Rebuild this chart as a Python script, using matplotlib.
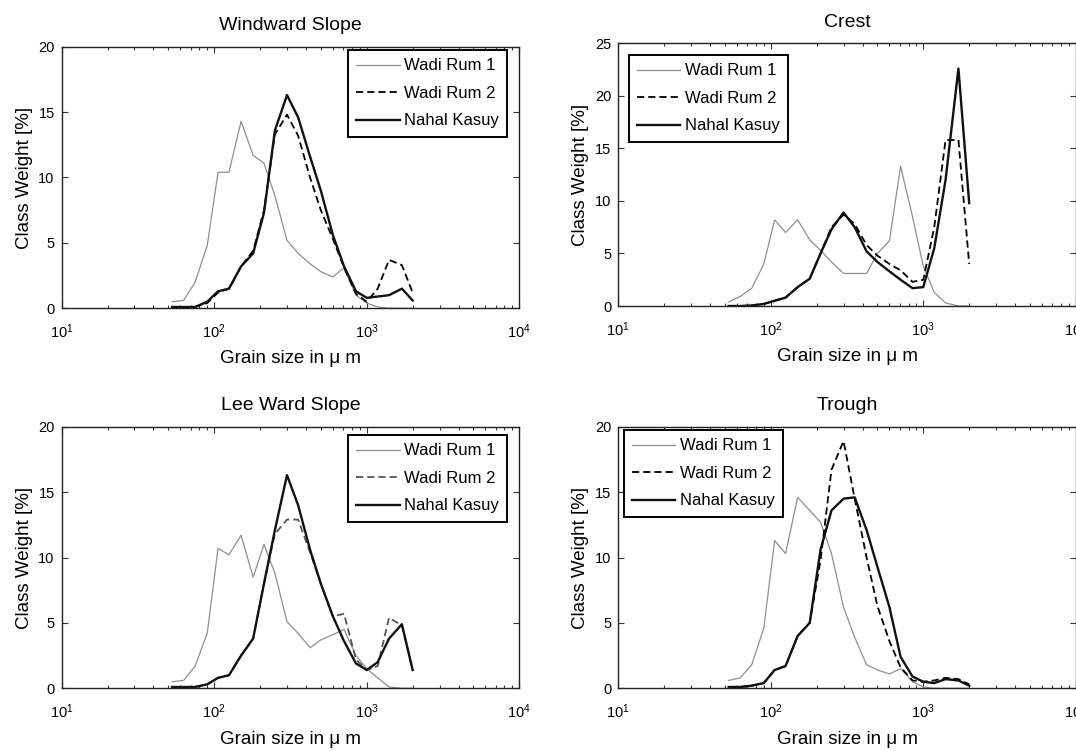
import matplotlib
matplotlib.use("Agg")
import matplotlib.pyplot as plt
from matplotlib.ticker import LogLocator, FixedLocator, NullFormatter

plt.rcParams['font.family'] = ['Liberation Sans', 'DejaVu Sans']
plt.rcParams['mathtext.fontset'] = 'custom'
plt.rcParams['mathtext.rm'] = 'Liberation Sans'
plt.rcParams['mathtext.it'] = 'Liberation Sans:italic'

# sieve classes (micrometres)
grain_size = [53, 63, 75, 90, 106, 125, 150, 180, 212, 250, 300, 355,
              425, 500, 600, 710, 850, 1000, 1180, 1400, 1700, 2000]

series_names = ['Wadi Rum 1', 'Wadi Rum 2', 'Nahal Kasuy']

# class weight [%] per position on the dune
windward_wr1 = [0.5, 0.6, 2.0, 4.8, 10.4, 10.4, 14.3, 11.7, 11.1, 8.6, 5.2, 4.2,
                3.4, 2.8, 2.4, 3.1, 1.0, 0.4, 0.1, 0.0, 0.0, 0.0]
windward_wr2 = [0.1, 0.1, 0.1, 0.4, 1.2, 1.5, 3.2, 4.4, 7.5, 13.3, 14.8, 13.2,
                10.0, 7.5, 5.3, 3.1, 1.1, 0.5, 1.5, 3.7, 3.3, 1.2]
windward_nk = [0.1, 0.1, 0.1, 0.5, 1.3, 1.5, 3.2, 4.2, 7.3, 13.6, 16.3, 14.6,
               11.6, 9.0, 5.6, 3.2, 1.3, 0.8, 0.9, 1.0, 1.5, 0.6]

crest_wr1 = [0.4, 0.9, 1.7, 4.0, 8.2, 7.0, 8.2, 6.3, 5.3, 4.2, 3.1, 3.1,
             3.1, 5.0, 6.2, 13.3, 8.5, 3.8, 1.3, 0.3, 0.0, 0.0]
crest_wr2 = [0.0, 0.0, 0.05, 0.2, 0.5, 0.8, 1.8, 2.6, 5.0, 7.5, 8.7, 7.8,
             5.8, 4.8, 4.0, 3.4, 2.3, 2.5, 7.5, 15.8, 15.8, 4.0]
crest_nk = [0.0, 0.0, 0.05, 0.2, 0.5, 0.8, 1.8, 2.6, 5.0, 7.3, 8.9, 7.5,
            5.2, 4.2, 3.3, 2.5, 1.7, 1.8, 5.5, 12.0, 22.6, 9.8]

lee_wr1 = [0.5, 0.6, 1.7, 4.2, 10.7, 10.2, 11.7, 8.5, 11.0, 8.8, 5.1, 4.2,
           3.1, 3.7, 4.1, 4.5, 2.5, 1.5, 0.8, 0.1, 0.0, 0.0]
lee_wr2 = [0.1, 0.1, 0.1, 0.3, 0.8, 1.0, 2.5, 3.8, 8.0, 11.8, 12.9, 12.9,
           10.4, 8.0, 5.5, 5.7, 2.2, 1.4, 1.7, 5.4, 4.8, 1.4]
lee_nk = [0.1, 0.1, 0.1, 0.3, 0.8, 1.0, 2.5, 3.8, 8.0, 12.1, 16.3, 14.0,
          10.6, 8.0, 5.5, 3.6, 1.9, 1.4, 2.0, 3.8, 4.9, 1.4]

trough_wr1 = [0.6, 0.8, 1.8, 4.6, 11.3, 10.3, 14.6, 13.6, 12.7, 10.3, 6.2, 3.9,
              1.8, 1.4, 1.1, 1.5, 0.5, 0.1, 0.0, 0.0, 0.0, 0.0]
trough_wr2 = [0.1, 0.1, 0.2, 0.4, 1.4, 1.7, 4.0, 5.0, 9.8, 16.7, 18.9, 14.5,
              10.0, 6.3, 3.6, 1.6, 0.6, 0.5, 0.6, 0.8, 0.7, 0.3]
trough_nk = [0.1, 0.1, 0.2, 0.4, 1.4, 1.7, 4.0, 5.0, 10.6, 13.6, 14.5, 14.6,
             12.1, 9.3, 6.2, 2.4, 0.9, 0.5, 0.4, 0.7, 0.6, 0.2]

fig = plt.figure(figsize=(10.76, 7.51), dpi=100)


def dune_panel(rect, title, wr1, wr2, nk, ymax, legend_loc, legend_anchor,
               wr2_color='k'):
    ax = fig.add_axes(rect)
    ax.plot(grain_size, wr1, color='#8f8f8f', lw=0.9, label=series_names[0])
    ax.plot(grain_size, wr2, color=wr2_color, lw=1.3, ls=(0, (4, 2.2)),
            label=series_names[1])
    ax.plot(grain_size, nk, color='#111111', lw=1.7, label=series_names[2])

    ax.set_xscale('log')
    ax.set_xlim(10, 1e4)
    ax.set_ylim(0, ymax)
    ax.xaxis.set_major_locator(FixedLocator([10, 100, 1000, 10000]))
    ax.set_xticklabels([r'$10^{1}$', r'$10^{2}$', r'$10^{3}$', r'$10^{4}$'])
    ax.xaxis.set_minor_locator(LogLocator(base=10, subs=range(2, 10)))
    ax.xaxis.set_minor_formatter(NullFormatter())
    ax.set_yticks(range(0, ymax + 1, 5))

    ax.tick_params(which='both', direction='in', top=True, right=True,
                   labelsize=10.5, width=0.8, color='#333333')
    ax.tick_params(which='major', length=4)
    ax.tick_params(which='minor', length=2.5)
    ax.tick_params(axis='x', which='major', pad=10)
    ax.tick_params(axis='y', which='major', pad=5)
    for spine in ax.spines.values():
        spine.set_linewidth(1.0)
        spine.set_color('#222222')

    ax.set_title(title, fontsize=14, pad=12)
    ax.set_xlabel('Grain size in \u03bc m', fontsize=13.5, labelpad=7)
    ax.set_ylabel('Class Weight [%]', fontsize=13.5, labelpad=4)

    leg = ax.legend(loc=legend_loc, bbox_to_anchor=legend_anchor,
                    fontsize=12, handlelength=2.6, handletextpad=0.25,
                    borderpad=0.5, labelspacing=0.75, fancybox=False,
                    framealpha=1, borderaxespad=0)
    leg.get_frame().set_edgecolor('k')
    leg.get_frame().set_linewidth(1.4)
    return ax


dune_panel([0.0573, 0.5895, 0.4253, 0.3483], 'Windward Slope',
           windward_wr1, windward_wr2, windward_nk, 20,
           'upper right', (0.973, 0.987))
dune_panel([0.5746, 0.5925, 0.4252, 0.3498], 'Crest',
           crest_wr1, crest_wr2, crest_nk, 25,
           'upper left', (0.023, 0.955))
dune_panel([0.0573, 0.0835, 0.4253, 0.3483], 'Lee Ward Slope',
           lee_wr1, lee_wr2, lee_nk, 20,
           'upper right', (0.973, 0.968), wr2_color='#555555')
dune_panel([0.5746, 0.0835, 0.4252, 0.3483], 'Trough',
           trough_wr1, trough_wr2, trough_nk, 20,
           'upper left', (0.012, 0.987))

fig.savefig('out.png', dpi=100)
